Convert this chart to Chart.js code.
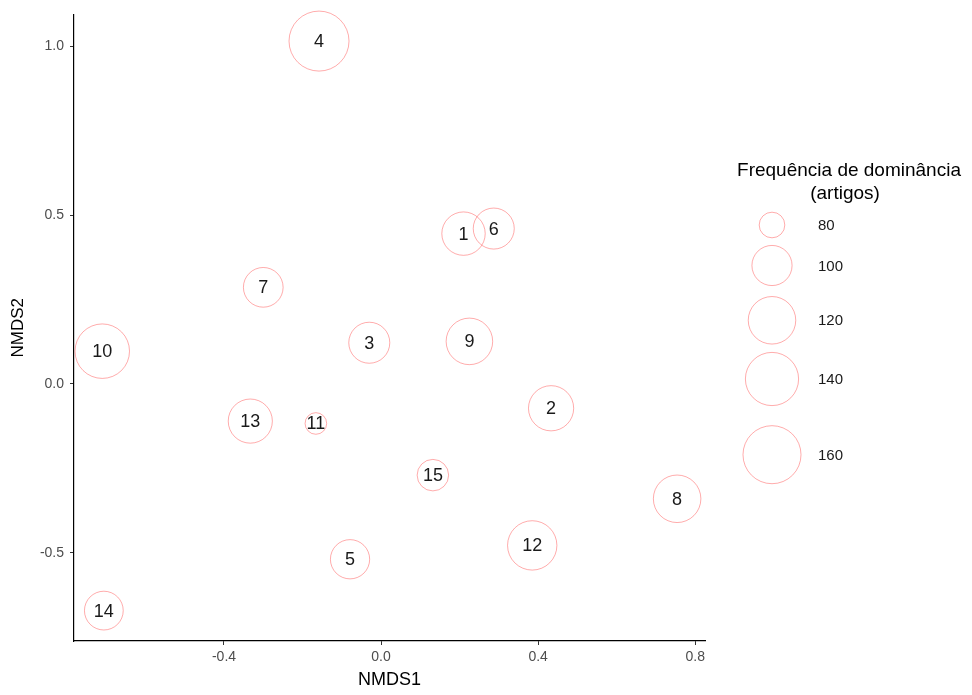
<!DOCTYPE html>
<html><head><meta charset="utf-8">
<script src="https://cdn.jsdelivr.net/npm/chart.js@4/dist/chart.umd.min.js"></script>
<style>html,body{margin:0;padding:0;background:#fff}#wrap{width:972px;height:695px;position:relative}</style>
</head><body><div id="wrap"><canvas id="c"></canvas></div>
<script>
const siteLabels = ['1','2','3','4','5','6','7','8','9','10','11','12','13','14','15'];
const nmds1 = [0.210, 0.433, -0.030, -0.158, -0.079, 0.287, -0.300, 0.754, 0.225, -0.710, -0.166, 0.385, -0.333, -0.706, 0.132];
const nmds2 = [0.445, -0.072, 0.122, 1.015, -0.519, 0.460, 0.286, -0.340, 0.126, 0.097, -0.117, -0.478, -0.110, -0.671, -0.270];
const frequency = [108, 113, 102, 169, 98, 102, 99, 120, 117, 145, 79, 126, 110, 97, 85];
const xTickValues = [-0.4, 0.0, 0.4, 0.8];
const yTickValues = [-0.5, 0.0, 0.5, 1.0];
const legendValues = [80, 100, 120, 140, 160];
const legendTitle = ['Frequência de dominância', '(artigos)'];

const FONT = "'Liberation Sans', Arial, Helvetica, sans-serif";
const STROKE = 'rgba(255,0,0,0.33)';
const vMin = Math.min(...frequency), vMax = Math.max(...frequency);
const R_MIN = 10.8, R_MAX = 30;
function sizeOf(v){
  const t = Math.max(0, (v - vMin) / (vMax - vMin));
  return R_MIN + (R_MAX - R_MIN) * Math.sqrt(t);
}

const points = siteLabels.map((s, i) => ({x: nmds1[i], y: nmds2[i], r: sizeOf(frequency[i])}));

const labelPlugin = {
  id: 'siteLabels',
  afterDatasetsDraw(chart){
    const ctx = chart.ctx;
    const meta = chart.getDatasetMeta(0);
    ctx.save();
    ctx.font = '18px ' + FONT;
    ctx.fillStyle = '#1a1a1a';
    ctx.textAlign = 'center';
    ctx.textBaseline = 'middle';
    meta.data.forEach((el, i) => ctx.fillText(siteLabels[i], el.x, el.y + 1));
    ctx.restore();
  }
};

const legendPlugin = {
  id: 'sizeLegend',
  afterDraw(chart){
    const ctx = chart.ctx;
    const cx = 772, titleX = 849;
    const keyY = [225, 265.5, 320.3, 379, 454.7];
    ctx.save();
    ctx.font = '19px ' + FONT;
    ctx.fillStyle = '#000';
    ctx.textAlign = 'center';
    ctx.textBaseline = 'middle';
    ctx.fillText(legendTitle[0], titleX, 171);
    ctx.fillText(legendTitle[1], titleX - 4, 194);
    legendValues.forEach((v, i) => {
      ctx.beginPath();
      ctx.arc(cx, keyY[i], sizeOf(v), 0, Math.PI * 2);
      ctx.strokeStyle = STROKE;
      ctx.lineWidth = 1;
      ctx.stroke();
      ctx.font = '15px ' + FONT;
      ctx.fillStyle = '#1a1a1a';
      ctx.textAlign = 'left';
      ctx.fillText(String(v), 818, keyY[i] + 1);
    });
    ctx.restore();
  }
};

new Chart(document.getElementById('c'), {
  type: 'bubble',
  data: {
    datasets: [{
      data: points,
      backgroundColor: 'rgba(0,0,0,0)',
      borderColor: STROKE,
      borderWidth: 1,
      hoverBorderWidth: 1,
      clip: false
    }]
  },
  options: {
    responsive: true,
    maintainAspectRatio: false,
    animation: false,
    events: [],
    layout: {autoPadding: false, padding: {top: 12, right: 267, left: 0, bottom: 0}},
    plugins: {legend: {display: false}, tooltip: {enabled: false}},
    scales: {
      x: {
        type: 'linear',
        min: -0.782, max: 0.825,
        afterBuildTicks(s){ s.ticks = xTickValues.map(v => ({value: v})); },
        afterFit(s){ s.height = 54; },
        border: {display: true, color: '#000', width: 1.2},
        grid: {display: true, drawOnChartArea: false, drawTicks: true, tickLength: 4, color: '#333', tickWidth: 1},
        ticks: {color: '#4d4d4d', font: {size: 14, family: FONT}, padding: 4, maxRotation: 0,
                callback: v => Number(v).toFixed(1)},
        title: {display: true, text: 'NMDS1', color: '#000', font: {size: 18, family: FONT}, padding: {top: 2, bottom: 4}}
      },
      y: {
        type: 'linear',
        min: -0.761, max: 1.094,
        afterBuildTicks(s){ s.ticks = yTickValues.map(v => ({value: v})); },
        afterFit(s){ s.width = 74; },
        border: {display: true, color: '#000', width: 1.2},
        grid: {display: true, drawOnChartArea: false, drawTicks: true, tickLength: 4, color: '#333', tickWidth: 1},
        ticks: {color: '#4d4d4d', font: {size: 14, family: FONT}, padding: 6,
                callback: v => Number(v).toFixed(1)},
        title: {display: true, text: 'NMDS2', color: '#000', font: {size: 17, family: FONT}, padding: {top: 8, bottom: 2}}
      }
    }
  },
  plugins: [labelPlugin, legendPlugin]
});
</script>
</body></html>
